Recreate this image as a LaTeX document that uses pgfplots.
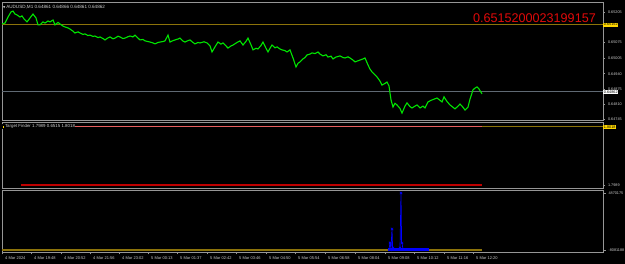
\documentclass[border=0pt]{standalone}
\usepackage{pgfplots}
\pgfplotsset{compat=1.18}
\usepackage{fontspec}
\setmainfont{Liberation Sans}
\newfontfamily\symfont{DejaVu Sans}
\definecolor{framegray}{RGB}{150,150,150}
\definecolor{txtgray}{RGB}{205,205,205}
\definecolor{pricegreen}{RGB}{0,230,0}
\definecolor{mtolive}{RGB}{140,115,10}
\definecolor{bidgray}{RGB}{95,105,115}
\definecolor{redtxt}{RGB}{225,10,10}
\definecolor{mtsalmon}{RGB}{230,95,95}
\definecolor{mtdarkred}{RGB}{190,0,0}
\definecolor{mtblue}{RGB}{0,0,255}
\definecolor{tagyellow}{RGB}{255,215,0}

\pgfplotsset{
  mtpanel/.style={
    scale only axis, width=601pt, anchor=south west,
    xmin=2, xmax=603, clip=false,
    axis line style={draw=framegray, line width=0.9pt},
    ytick pos=right, tick align=outside, major tick length=2pt,
    tick style={draw=framegray, line width=0.5pt},
    yticklabel style={font=\fontsize{3.8}{4}\selectfont, text=txtgray, xshift=-0.5pt},
    xtick=\empty, scaled y ticks=false,
  }
}

\begin{document}
\begin{tikzpicture}
\useasboundingbox (0,0) rectangle (625pt,264pt);
\fill[black] (0,0) rectangle (625pt,264pt);

% ---------------- main price panel
\begin{axis}[mtpanel, at={(2pt,144pt)}, height=118pt, ymin=0.64740, ymax=0.65250,
  ytick={0.65205,0.65075,0.65005,0.64940,0.64875,0.64810,0.64745},
  yticklabels={0.65205,0.65075,0.65005,0.64940,0.64875,0.64810,0.64745}]
\addplot[mtolive, line width=1pt] coordinates {(2,0.65152) (603,0.65152)};
\addplot[bidgray, line width=0.7pt] coordinates {(2,0.64862) (603,0.64862)};
\addplot[pricegreen, line width=1.1pt] coordinates {
(2,0.65155) (5,0.65159) (8,0.65185) (11,0.65207) (13,0.65211) (15,0.65198) (17,0.65194)
(20,0.65185) (22,0.65190) (24,0.65177) (27,0.65164) (30,0.65181) (33,0.65198) (36,0.65181)
(38,0.65151) (40,0.65151) (43,0.65164) (45,0.65159) (48,0.65168) (50,0.65164) (53,0.65172) (55,0.65151)
(58,0.65162) (60,0.65155) (63,0.65146) (65,0.65142) (68,0.65138) (70,0.65133) (73,0.65124) (75,0.65116)
(78,0.65121) (80,0.65116) (83,0.65110) (85,0.65112) (88,0.65105) (90,0.65107) (93,0.65101) (95,0.65103)
(98,0.65096) (100,0.65099) (103,0.65092) (105,0.65086) (108,0.65095) (110,0.65099) (113,0.65091) (115,0.65094)
(118,0.65102) (120,0.65099) (123,0.65092) (125,0.65094) (128,0.65100) (130,0.65103) (133,0.65099) (135,0.65107)
(138,0.65094) (140,0.65086) (143,0.65088) (145,0.65082) (148,0.65079) (150,0.65077) (153,0.65073) (155,0.65069)
(158,0.65075) (160,0.65077) (163,0.65079) (165,0.65082) (168,0.65107) (170,0.65077) (173,0.65083) (175,0.65086)
(178,0.65090) (180,0.65094) (183,0.65081) (185,0.65077) (188,0.65083) (190,0.65086) (193,0.65075) (195,0.65069)
(198,0.65075) (200,0.65073) (204,0.65078) (207,0.65073) (210,0.65060) (212,0.65034) (215,0.65056) (218,0.65077)
(221,0.65068) (223,0.65073) (226,0.65060) (228,0.65051) (231,0.65060) (233,0.65064) (237,0.65075) (240,0.65082)
(243,0.65064) (246,0.65080) (248,0.65094) (251,0.65065) (253,0.65043) (256,0.65050) (258,0.65047) (261,0.65062)
(263,0.65077) (266,0.65050) (268,0.65034) (270,0.65050) (272,0.65064) (275,0.65052) (277,0.65056) (280,0.65047)
(282,0.65043) (285,0.65040) (287,0.65034) (290,0.65043) (293,0.65008) (296,0.64969) (298,0.64985) (300,0.64991)
(303,0.65004) (305,0.65010) (307,0.65021) (310,0.65025) (312,0.65030) (315,0.65027) (318,0.65034) (320,0.65025)
(323,0.65017) (326,0.65022) (328,0.65012) (331,0.65016) (333,0.65004) (336,0.65012) (340,0.65017) (343,0.65010)
(345,0.65008) (348,0.65013) (350,0.65008) (353,0.64999) (355,0.64991) (358,0.64996) (360,0.64999) (363,0.65004)
(365,0.65008) (368,0.64978) (370,0.64960) (372,0.64948) (375,0.64935) (377,0.64926) (380,0.64908) (382,0.64891)
(385,0.64898) (387,0.64904) (389,0.64887) (391,0.64827) (393,0.64796) (395,0.64812) (397,0.64805) (400,0.64790)
(402,0.64770) (405,0.64800) (407,0.64814) (410,0.64798) (412,0.64792) (415,0.64800) (417,0.64805) (420,0.64792)
(423,0.64800) (425,0.64792) (428,0.64818) (431,0.64825) (434,0.64830) (437,0.64835) (440,0.64825) (442,0.64818)
(444,0.64840) (447,0.64820) (450,0.64805) (453,0.64795) (455,0.64788) (458,0.64800) (460,0.64809) (463,0.64795)
(465,0.64783) (468,0.64796) (470,0.64830) (473,0.64870) (475,0.64878) (477,0.64883) (479,0.64874) (482,0.64853)
};
\node[anchor=west, fill=tagyellow, text=black, inner sep=0.7pt, font=\fontsize{3.8}{4}\selectfont]
  at (axis cs:603,0.65152) {0.65152};
\node[anchor=west, fill=white, text=black, inner sep=0.7pt, font=\fontsize{3.8}{4}\selectfont]
  at (axis cs:603,0.64862) {0.64862};
\node[anchor=east, text=redtxt, inner sep=0pt, font=\fontsize{12.6}{13}\selectfont]
  at (axis cs:596,0.65181) {0.6515200023199157};
\node[anchor=west, text=txtgray, inner sep=0pt, font=\fontsize{4.6}{5}\selectfont]
  at (axis cs:3,0.65226) {{\symfont\fontsize{3}{3}\selectfont ▼}\,AUDUSD,M1 0.64861 0.64866 0.64861 0.64862};
\end{axis}

% ---------------- Target Finder panel
\begin{axis}[mtpanel, at={(2pt,76pt)}, height=66pt, ymin=1.79876, ymax=1.80195,
  ytick={1.7989}, yticklabels={1.7989}]
\addplot[mtolive, line width=1pt] coordinates {(2,1.80172) (603,1.80172)};
\addplot[mtsalmon, line width=1pt] coordinates {(2,1.80172) (482,1.80172)};
\addplot[mtdarkred, line width=1.3pt] coordinates {(21,1.7989) (482,1.7989)};
\node[anchor=west, fill=black, text=txtgray, inner sep=0.5pt, font=\fontsize{4.4}{5}\selectfont]
  at (axis cs:2,1.80172) {\textcolor{tagyellow}{\rule{1.6pt}{1.6pt}}\,Target Finder 1.7989 0.6515 1.8018};
\node[anchor=west, fill=tagyellow, text=black, inner sep=0.7pt, font=\fontsize{3.8}{4}\selectfont]
  at (axis cs:603,1.80172) {1.8018};
\end{axis}

% ---------------- up-down panel
\begin{axis}[mtpanel, at={(2pt,12pt)}, height=62pt, ymin=-170900, ymax=5126500,
  ytick={4870175,0}, yticklabels={4870175,-8081188},
  xtick={2,31,61,90,119,148,177,207,236,266,295,325,355,385,414,444,473},
  xticklabels={4 Mar 2024,4 Mar 19:48,4 Mar 20:52,4 Mar 21:56,4 Mar 23:02,5 Mar 00:13,5 Mar 01:37,5 Mar 02:42,5 Mar 03:46,5 Mar 04:50,5 Mar 05:54,5 Mar 06:58,5 Mar 08:04,5 Mar 09:08,5 Mar 10:12,5 Mar 11:16,5 Mar 12:20},
  xtick pos=bottom, major tick length=2.5pt,
  xticklabel style={anchor=north west, font=\fontsize{4}{4.5}\selectfont, text=txtgray, xshift=-0.3pt, yshift=1pt}]
\addplot[mtolive, line width=1.1pt] coordinates {(2,0) (482,0)};
\addplot[mtblue, line width=2.6pt] coordinates {(388,40000) (429,40000)};
\addplot[mtblue, line width=0.7pt] coordinates {
(388,40000) (389,80000) (390,598000) (391,100000) (392,1794000) (392.6,200000) (393,171000)
(396,60000) (399,80000) (400,171000) (401,4870000) (401.6,598000) (402,598000) (403,60000) (429,60000)};
\addplot[mtblue, only marks, mark=x, mark size=1.6pt, line width=0.7pt] coordinates {
(390,598000) (392,1794000) (393,171000) (400,171000) (401,4870000) (402,598000)};
\end{axis}
\end{tikzpicture}
\end{document}
